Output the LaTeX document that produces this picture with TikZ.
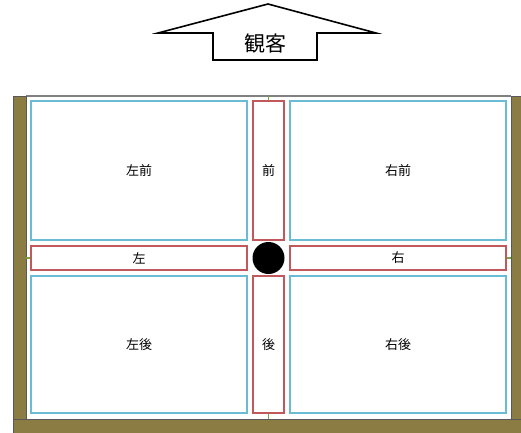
\documentclass[tikz,border=0pt]{standalone}
\usepackage{fontspec}
\setmainfont{Noto Sans CJK JP}
\definecolor{oliv}{RGB}{138,124,66}
\definecolor{areablue}{RGB}{105,188,212}
\definecolor{areared}{RGB}{192,88,92}
\definecolor{tickgreen}{RGB}{110,170,60}
\begin{document}
\begin{tikzpicture}[x=1pt,y=-1pt,
  bluebox/.style={draw=areablue, line width=1.5pt, fill=white, inner sep=0pt, minimum width=216pt, font=\fontsize{13}{15}\selectfont},
  redbox/.style={draw=areared, line width=1.2pt, fill=white, inner sep=0pt, font=\fontsize{13}{15}\selectfont},
  olivebar/.style={fill=oliv, draw=black!65, line width=0.8pt},
  tick/.style={draw=tickgreen, line width=1.4pt}]
\useasboundingbox (0,0) rectangle (521,432);
% audience arrow
\draw[line width=1.6pt, line join=miter] (213,60) -- (213,33) -- (158,33) -- (268,4) -- (376,33) -- (317,33) -- (317,60) -- cycle;
\node[font=\fontsize{21}{24}\selectfont] (aud) at (265,44) {観客};
% stage frame
\draw[gray, line width=1.2pt] (26,96) -- (511,96);
\path[olivebar] (13,96) rectangle (26,432);
\path[olivebar] (511,96) rectangle (523,432);
\path[olivebar] (13,419) rectangle (523,434);
\coordinate (ftop) at (268.5,96);
\coordinate (fleft) at (26,258);
\coordinate (fright) at (511,258);
\coordinate (fbot) at (268.5,419);
% areas
\node[bluebox, minimum height=139pt] (lf) at (139,170.5) {左前};
\node[bluebox, minimum height=139pt] (rf) at (398,170.5) {右前};
\node[bluebox, minimum height=137pt] (lb) at (139,344.5) {左後};
\node[bluebox, minimum height=137pt] (rb) at (398,344.5) {右後};
\node[redbox, minimum width=31pt, minimum height=139pt] (f) at (268.5,170.5) {前};
\node[redbox, minimum width=31pt, minimum height=137pt] (b) at (268.5,344.5) {後};
\node[redbox, minimum width=216pt, minimum height=24pt] (l) at (139,258) {左};
\node[redbox, minimum width=216pt, minimum height=24pt] (r) at (398,258) {右};
\node[circle, fill=black, minimum size=32pt, inner sep=0pt] (c) at (268.5,258) {};
% ticks
\draw[tick] (ftop) -- (f.north);
\draw[tick] (fbot) -- (b.south);
\draw[tick] (fleft) -- (l.west);
\draw[tick] (fright) -- (r.east);
\end{tikzpicture}
\end{document}
